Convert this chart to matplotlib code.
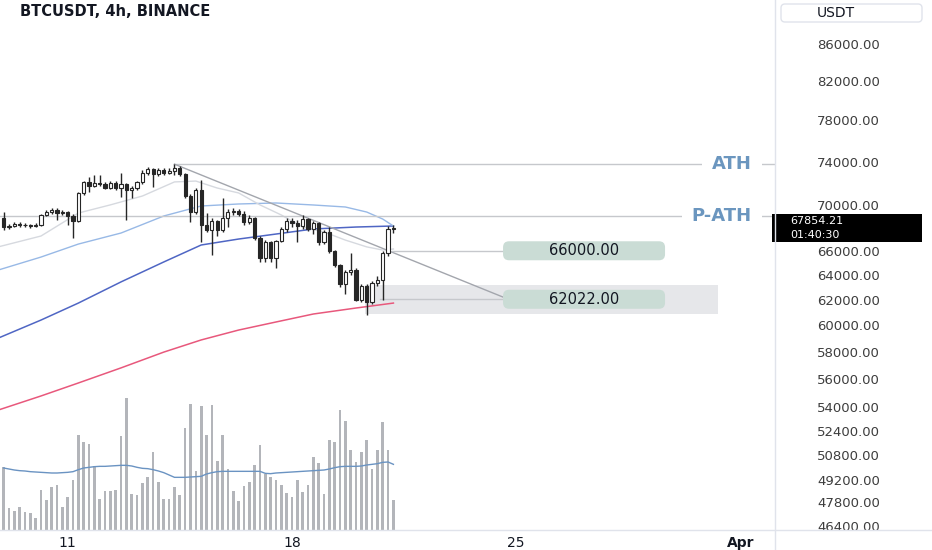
import numpy as np
import matplotlib
matplotlib.use("Agg")
import matplotlib.pyplot as plt
from matplotlib.patches import FancyBboxPatch, Rectangle
from matplotlib.lines import Line2D
import matplotlib.transforms as mtransforms
from matplotlib.ticker import NullLocator

# ---------------- data (BTCUSDT 4h candles) ----------------
opens = [68834, 68045, 68132, 68307, 68219, 68180, 68132, 68219, 69099, 69365,
         69543, 69276, 69365, 69011, 68570, 71074, 72083, 71714, 71991, 71898,
         71531, 71991, 71531, 71898, 71348, 71531, 72083, 72919, 73294, 72826,
         73200, 72919, 73106, 73388, 72826, 70801, 69365, 71348, 68219, 67784,
         68570, 67784, 68834, 69365, 69454, 69188, 68482, 68834, 67093, 65395,
         66750, 65395, 66835, 67871, 68570, 68394, 68132, 68746, 67871, 68394,
         66750, 67610, 65984, 64811, 63252, 64232, 64397, 61969, 63090, 61811,
         63333, 63577, 65815, 67871]
highs = [69365, 68307, 68482, 68482, 68394, 68307, 68394, 69188, 69543, 69721,
         69721, 69543, 69454, 69188, 71165, 72175, 72547, 72733, 72733, 72083,
         72175, 72175, 72919, 71991, 71714, 72175, 73200, 73482, 73388, 73388,
         73388, 73388, 73765, 73576, 72919, 70983, 71531, 72268, 69276, 68834,
         68658, 70620, 69632, 69721, 69632, 69454, 69099, 68922, 67265, 66921,
         66835, 66921, 68045, 68834, 68834, 68658, 69099, 68834, 68570, 68482,
         67784, 68045, 66069, 64894, 64397, 65815, 64563, 63252, 63252, 63495,
         63903, 65984, 68132, 68219]
lows = [67784, 67871, 68045, 68045, 68045, 67958, 68045, 68132, 69011, 69188,
        68658, 69099, 68219, 67093, 68482, 70892, 71165, 71623, 71714, 71439,
        71439, 71348, 70711, 68658, 70620, 71348, 71898, 72733, 71623, 72640,
        72733, 72826, 72733, 72640, 70620, 68482, 69188, 66750, 67610, 65647,
        67265, 67610, 68045, 69099, 69011, 68219, 68307, 66921, 65061, 65061,
        65061, 64563, 66750, 67610, 68045, 66750, 67871, 67697, 67437, 66494,
        66579, 65815, 64645, 63009, 62447, 63985, 61890, 61811, 60789, 61653,
        63090, 61969, 65563, 67524]
closes = [68045, 68132, 68307, 68219, 68180, 68132, 68219, 69099, 69365, 69543,
          69276, 69365, 69011, 68570, 71074, 72083, 71714, 71991, 71898, 71531,
          71991, 71531, 71898, 71348, 71531, 72083, 72919, 73294, 72826, 73200,
          72919, 73106, 73388, 72826, 70801, 69365, 71348, 68219, 67784, 68570,
          67784, 68834, 69365, 69454, 69188, 68482, 68834, 67093, 65395, 66750,
          65395, 66835, 67871, 68570, 68394, 68132, 68746, 67871, 68394, 66750,
          67610, 65984, 64811, 63252, 64232, 64397, 61969, 63090, 61811, 63333,
          63577, 65815, 67871, 67854.21]
volumes = [18800, 6600, 5600, 6900, 5300, 5100, 3600, 11900, 9000, 12800,
           13600, 6800, 9800, 15100, 28600, 26400, 25800, 19100, 9400, 11600,
           11600, 12100, 28300, 39600, 10800, 10500, 14000, 15800, 23300, 14500,
           9200, 9200, 12800, 10600, 30600, 37800, 17600, 37100, 28600, 37400,
           20600, 28600, 18400, 11800, 8600, 13100, 14300, 19400, 25600, 16800,
           15800, 14900, 13600, 11100, 10000, 15000, 11400, 13400, 21800, 20100,
           10800, 26900, 26400, 35900, 32600, 24100, 20400, 23400, 27100, 18400,
           24100, 32300, 23900, 8900]
volume_ma = [18600, 18300, 18000, 17800, 17700, 17500, 17400, 17300, 17200, 17100,
             17100, 17200, 17300, 17500, 18100, 18600, 18800, 19000, 19100, 19100,
             19200, 19300, 19400, 19400, 19200, 18800, 18500, 18400, 18100, 17700,
             17200, 16500, 15800, 15800, 15800, 15900, 16000, 16100, 16800, 17200,
             17500, 17600, 17600, 17600, 17600, 17600, 17600, 17600, 17600, 17000,
             16900, 17100, 17200, 17300, 17400, 17500, 17600, 17700, 17800, 17900,
             18000, 18300, 18700, 19000, 19100, 19100, 19100, 19200, 19500, 19700,
             19900, 20300, 20400, 19700]

# moving averages (bar index, price)
ma_slow_idx = [-1, 7, 14, 22, 30, 37, 44, 51, 58, 66, 73]
ma_red = [53810, 54790, 55710, 56800, 57960, 58870, 59620, 60240, 60860, 61330, 61720]
ma_dark_blue = [59010, 60390, 61720, 63420, 65060, 66490, 67000, 67430, 67870, 68040, 68130]
ma_mid_idx = [-1, 7, 14, 22, 30, 37, 44, 51, 58, 64, 68, 71, 73]
ma_light_blue = [64390, 65470, 66570, 67520, 69010, 69900, 70080, 70170, 69990, 69810, 69360, 68740, 68130]
ma_fast_idx = [-1, 7, 14, 20, 26, 32, 36, 40, 44, 48, 52, 56, 60, 64, 68, 71, 73]
ma_fast = [66330, 67260, 69270, 70000, 70800, 72090, 72170, 71530, 71080, 70000,
           69100, 68040, 67610, 66910, 66330, 66060, 66150]

# annotation levels
ath_price = 73750
pre_ath_price = 69000
level_66000 = 66000.00
level_62022 = 62022.00
zone_low, zone_high = 60860, 63170
trend_end = (93.5, 62200)
last_price = 67854.21
countdown = "01:40:30"

price_ticks = [86000, 82000, 78000, 74000, 70000, 66000, 64000, 62000, 60000,
               58000, 56000, 54000, 52400, 50800, 49200, 47800, 46400]
date_ticks = [12, 54, 96, 138]
date_labels = ["11", "18", "25", "Apr"]

# ---------------- figure ----------------
W, H = 932, 550
fig = plt.figure(figsize=(W / 100, H / 100), dpi=100, facecolor="white")
rect = [0, 20 / H, 775 / W, 530 / H]
XLIM = (-0.674, 144.46)
YLIM = (46140, 91026)

axv = fig.add_axes(rect)
axv.set_xlim(*XLIM)
axv.set_ylim(0, 159000)
axv.axis("off")

ax = fig.add_axes(rect)
ax.patch.set_alpha(0)
ax.set_yscale("log")
ax.set_xlim(*XLIM)
ax.set_ylim(*YLIM)
ax.set_autoscale_on(False)
for s in ax.spines.values():
    s.set_visible(False)

x = np.arange(len(opens))
o = np.array(opens, float); c = np.array(closes, float)
h = np.array(highs, float); l = np.array(lows, float)

# volume
axv.bar(x, volumes, width=0.5, color="#b3b5ba", zorder=1)
axv.plot(x, volume_ma, color="#6a93c2", lw=1.0, zorder=2)

# moving averages
ax.plot(ma_slow_idx, ma_red, color="#e8587c", lw=1.1, zorder=2)
ax.plot(ma_slow_idx, ma_dark_blue, color="#4f66c4", lw=1.1, zorder=2)
ax.plot(ma_mid_idx, ma_light_blue, color="#98b9e6", lw=1.0, zorder=2)
ax.plot(ma_fast_idx, ma_fast, color="#d6d9df", lw=1.0, zorder=2)

# zone & drawings
ax.add_patch(Rectangle((68 - 0.3, zone_low), 134 - 68, zone_high - zone_low,
                       facecolor="#e6e7ea", edgecolor="none", zorder=1))
ath_idx = int(np.argmax(h))
line_col = "#c6c8cc"
ax.plot([ath_idx, XLIM[1]], [ath_price, ath_price], color=line_col, lw=1, zorder=2)
ax.axhline(pre_ath_price, color=line_col, lw=1, zorder=2)
ax.plot([ath_idx, trend_end[0]], [ath_price, trend_end[1]], color="#a3a6ad", lw=1, zorder=2)
ax.plot([72.7, trend_end[0]], [level_66000, level_66000], color=line_col, lw=1, zorder=2)
ax.plot([70.4, trend_end[0]], [level_62022, level_62022], color=line_col, lw=1, zorder=2)

# candles
dark = "#262626"
up = c >= o
ax.vlines(x, l, h, color=dark, lw=1, zorder=3)
bottoms = np.minimum(o, c)
heights = np.maximum(np.abs(c - o), bottoms * 0.0009)
ax.bar(x, heights, bottom=bottoms, width=0.6,
       color=np.where(up, "white", dark), edgecolor=dark, lw=0.8, zorder=4)


def anchored(xv, yv, base):
    return mtransforms.Affine2D() + mtransforms.ScaledTranslation(xv, yv, base)


# price label boxes
label_center = trend_end[0] + 15.2
for lvl in (level_66000, level_62022):
    tr = anchored(label_center, lvl, ax.transData)
    ax.add_artist(FancyBboxPatch((-81, -9.5), 162, 19,
                                 boxstyle="round,pad=0,rounding_size=6",
                                 facecolor="#cadcd5", edgecolor="none",
                                 transform=tr, zorder=5))
    ax.text(0, 0, f"{lvl:.2f}", transform=tr, ha="center", va="center",
            fontsize=10.5, color="#131722", zorder=6)

# ATH / P-ATH texts
for lvl, txt in ((ath_price, "ATH"), (pre_ath_price, "P-ATH")):
    ax.text(140.1, lvl, txt, ha="right", va="center", fontsize=13,
            fontweight="bold", color="#6b96bf", zorder=6,
            bbox=dict(boxstyle="square,pad=0.55", fc="white", ec="none"))

# axes ticks
ax.yaxis.tick_right()
ax.set_yticks(price_ticks, [f"{p:.2f}" for p in price_ticks])
ax.yaxis.set_minor_locator(NullLocator())
ax.tick_params(axis="y", length=0, pad=53, labelsize=9.5, labelcolor="#3d3d3d")
for lbl in ax.get_yticklabels():
    lbl.set_horizontalalignment("center")
ax.set_xticks(date_ticks, date_labels)
ax.tick_params(axis="x", length=0, pad=4, labelsize=10, labelcolor="#131722")
ax.get_xticklabels()[-1].set_fontweight("bold")

# current price tag
btr = mtransforms.blended_transform_factory(ax.transAxes, ax.transData)
ptr = anchored(1.0, last_price, btr)
ax.add_artist(Rectangle((-3, -13), 150, 28, facecolor="black", edgecolor="none",
                        transform=ptr, zorder=10, clip_on=False))
ax.text(15, 8, f"{last_price:.2f}", transform=ptr, ha="left", va="center",
        fontsize=8, color="white", zorder=11, clip_on=False)
ax.text(15, -6, countdown, transform=ptr, ha="left", va="center",
        fontsize=8, color="white", zorder=11, clip_on=False)

# frame lines
sep = "#e0e3eb"
fig.add_artist(Line2D([775 / W, 775 / W], [0, 1], transform=fig.transFigure, color=sep, lw=1))
fig.add_artist(Line2D([0, 1], [20 / H, 20 / H], transform=fig.transFigure, color=sep, lw=1))

# currency box
idt = mtransforms.IdentityTransform()
fig.add_artist(FancyBboxPatch((781, H - 22), 141, 18, boxstyle="round,pad=0,rounding_size=4",
                              facecolor="white", edgecolor=sep, lw=1, transform=idt))
fig.text(836, H - 13, "USDT", transform=idt, ha="center", va="center",
         fontsize=10, color="#131722")

# title
fig.text(20 / W, 1 - 12 / H, "BTCUSDT, 4h, BINANCE", ha="left", va="center",
         fontsize=10.5, fontweight="bold", color="#131722")

fig.savefig("out.png", dpi=100, facecolor="white")
